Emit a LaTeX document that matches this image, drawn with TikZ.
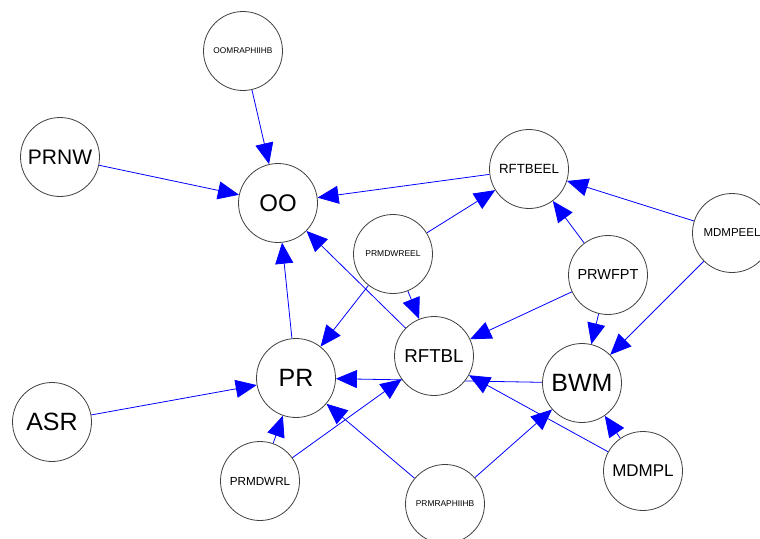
\documentclass[tikz,border=0pt]{standalone}
\usepackage{fontspec}
\setmainfont{Liberation Sans}
\usetikzlibrary{arrows.meta,backgrounds}
\begin{document}
\begin{tikzpicture}[x=1pt,y=-1pt,
  bn/.style={circle,draw=black!75,line width=0.8pt,fill=white,minimum size=79pt,inner sep=0pt,text=black},
  fs/.style={font=\fontsize{#1}{#1}\selectfont},
  edge/.style={draw=blue,line width=0.8pt,-{Triangle[length=21pt,width=18pt]}}]
\useasboundingbox (0,0) rectangle (760,538);
\node[bn,fs=8.3] (OOM) at (243,51) {OOMRAPHIIHB};
\node[bn,fs=24] (OO) at (278,203) {OO};
\node[bn,fs=21] (PRNW) at (60,157) {PRNW};
\node[bn,fs=13.3] (RFTBEEL) at (529,169) {RFTBEEL};
\node[bn,fs=8.5] (PRMDWREEL) at (393,254) {PRMDWREEL};
\node[bn,fs=11.5] (MDMPEEL) at (732,233) {MDMPEEL};
\node[bn,fs=14.5] (PRWFPT) at (608,275) {PRWFPT};
\node[bn,fs=25] (BWM) at (582,383) {BWM};
\node[bn,fs=17] (MDMPL) at (643,471) {MDMPL};
\node[bn,fs=25] (PR) at (296,378) {PR};
\node[bn,fs=18.7] (RFTBL) at (434,356) {RFTBL};
\node[bn,fs=11.7] (PRMDWRL) at (260,481) {PRMDWRL};
\node[bn,fs=8.4] (PRMRAPHIIHB) at (445,504) {PRMRAPHIIHB};
\node[bn,fs=25] (ASR) at (52,422) {ASR};
\begin{pgfonlayer}{background}
\draw[edge] (OOM) -- (OO);
\draw[edge] (PRNW) -- (OO);
\draw[edge] (RFTBEEL) -- (OO);
\draw[edge] (RFTBL) -- (OO);
\draw[edge] (PR) -- (OO);
\draw[edge] (PRMDWREEL) -- (RFTBEEL);
\draw[edge] (PRWFPT) -- (RFTBEEL);
\draw[edge] (MDMPEEL) -- (RFTBEEL);
\draw[edge] (MDMPEEL) -- (BWM);
\draw[edge] (PRWFPT) -- (BWM);
\draw[edge] (PRWFPT) -- (RFTBL);
\draw[edge] (PRMDWREEL) -- (RFTBL);
\draw[edge] (PRMDWREEL) -- (PR);
\draw[edge] (BWM) -- (PR);
\draw[edge] (ASR) -- (PR);
\draw[edge] (PRMDWRL) -- (PR);
\draw[edge] (PRMDWRL) -- (RFTBL);
\draw[edge] (PRMRAPHIIHB) -- (PR);
\draw[edge] (PRMRAPHIIHB) -- (BWM);
\draw[edge] (MDMPL) -- (RFTBL);
\draw[edge] (MDMPL) -- (BWM);
\end{pgfonlayer}
\end{tikzpicture}
\end{document}
